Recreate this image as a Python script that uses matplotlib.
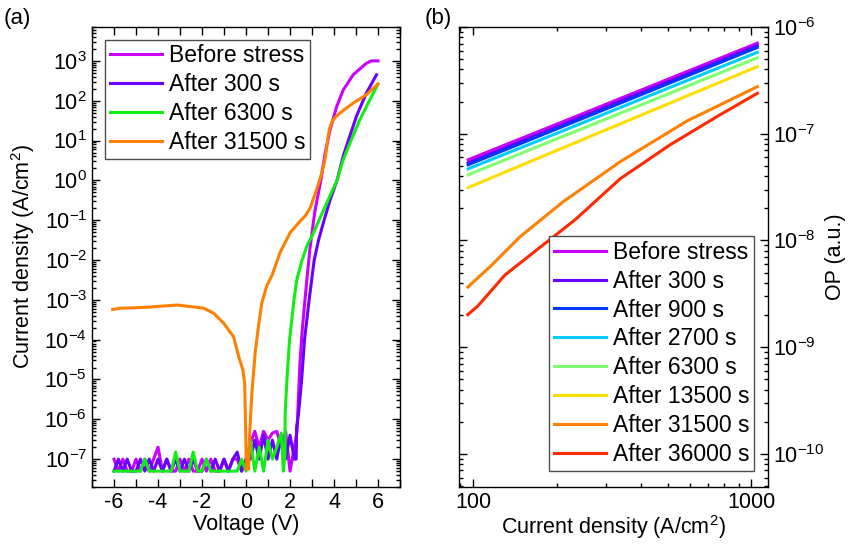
import matplotlib
matplotlib.use("Agg")
import matplotlib.pyplot as plt
from matplotlib.ticker import LogLocator, NullFormatter, MultipleLocator

# ---------- panel (a): J-V curves ----------
# noise floor part of the sweep (values in units of 1e-7 A/cm2)
noise_v_neg = [-6.0, -5.8, -5.6, -5.4, -5.2, -5.0, -4.8, -4.6, -4.4, -4.2, -4.0,
               -3.8, -3.6, -3.4, -3.2, -3.0, -2.8, -2.6, -2.4, -2.2, -2.0,
               -1.8, -1.6, -1.4, -1.2, -1.0, -0.8, -0.6, -0.4, -0.2, 0.0]
noise_v_pos = [0.2, 0.4, 0.6, 0.8, 1.0, 1.2, 1.4, 1.6, 1.8, 2.0, 2.2]

before_noise = [1, 0.5, 1, 0.5, 0.5, 1, 0.5, 1, 0.5, 1, 2, 0.5, 1, 0.5, 0.5, 1,
                0.5, 1, 0.5, 0.5, 1, 0.5, 1, 0.5, 0.5, 1, 0.5, 1, 1, 0.5, 1,
                2.5, 5, 2, 5, 3, 4.5, 5, 2, 5, 0.5, 2]
s300_noise = [0.5, 1, 0.5, 1, 0.5, 0.5, 1, 0.5, 1, 0.5, 1, 0.5, 1, 0.5, 1, 0.5,
              1, 0.5, 1, 0.5, 0.5, 1, 0.5, 1, 0.5, 1, 0.5, 1, 1.5, 0.5, 1,
              1, 3, 1, 4, 1, 3, 1, 4, 1, 4, 1]
s6300_noise = [0.5, 0.5, 0.5, 0.5, 0.5, 0.5, 0.5, 1, 0.5, 0.5, 0.5, 0.5, 0.5, 0.5,
               1.5, 0.5, 0.5, 0.5, 1.5, 0.5, 0.5, 1, 0.5, 0.5, 0.5, 0.5, 0.5, 0.5,
               0.5, 1, 0.5,
               3, 0.5, 2, 0.5, 3, 1, 2, 4.5]

# turn-on part of the sweep
before_v = [2.32, 2.38, 2.45, 2.55, 2.68, 2.80, 2.91, 3.05, 3.14, 3.40, 3.60,
            3.82, 4.12, 4.42, 4.87, 5.47, 5.70, 6.0]
before_j = [5.0e-7, 3.2e-6, 2.5e-5, 1.6e-4, 1e-3, 5e-3, 2e-2, 7.9e-2, 0.178,
            1.0, 4.8, 18.6, 71, 186, 447, 871, 1000, 1000]

s300_v = [2.28, 2.30, 2.38, 2.53, 2.66, 2.87, 3.10, 3.30, 3.55, 3.82, 4.15,
          4.42, 4.72, 5.02, 5.47, 5.93]
s300_j = [1e-7, 6.3e-7, 1.26e-6, 1e-5, 1e-4, 1e-3, 1e-2, 3.2e-2, 0.1, 0.32,
          1.05, 4.1, 12.9, 40.7, 155, 447]

s6300_v = [1.70, 1.77, 1.78, 1.86, 1.98, 2.18, 2.31, 2.55, 2.80, 3.0, 3.32,
           3.74, 4.15, 4.42, 4.72, 5.17, 5.63, 6.0]
s6300_j = [5e-8, 1.26e-7, 1.4e-6, 1e-5, 1e-4, 1e-3, 3.2e-3, 1e-2, 2.5e-2, 4e-2,
           0.1, 0.33, 1.05, 3.3, 8.5, 33, 105, 263]

s31500_v = [-6.06, -5.69, -5.08, -4.33, -3.88, -3.12, -2.67, -1.92, -1.46, -1.01,
            -0.56, -0.33, -0.14, -0.06, 0.02, 0.12, 0.17, 0.27, 0.42, 0.57, 0.72,
            0.95, 1.18, 1.55, 2.01, 2.30, 2.46, 2.70, 2.91, 3.21, 3.44, 3.55,
            3.62, 3.67, 3.72, 3.80, 3.90, 4.05, 4.27, 4.87, 5.47, 6.0]
s31500_j = [5.75e-4, 6.17e-4, 6.31e-4, 6.61e-4, 6.92e-4, 7.41e-4, 6.92e-4, 6.17e-4,
            4.57e-4, 2.57e-4, 1.17e-4, 3.72e-5, 1.74e-5, 7.9e-6, 5.6e-8, 5.6e-8,
            4.8e-7, 4.8e-6, 4.9e-5, 2.24e-4, 8.5e-4, 2.3e-3, 4.1e-3, 1.55e-2,
            4.9e-2, 7.5e-2, 9.5e-2, 0.13, 0.20, 0.59, 1.5, 2.6,
            4.2, 7.0, 11.5, 20, 29, 38, 49, 87, 141, 263]

# ---------- panel (b): OP vs current density ----------
op_j = [96, 200, 450, 1050]
op_before = [5.7e-8, 1.23e-7, 2.89e-7, 7.05e-7]
op_300 = [5.34e-8, 1.16e-7, 2.73e-7, 6.70e-7]
op_900 = [5.12e-8, 1.11e-7, 2.62e-7, 6.43e-7]
op_2700 = [4.69e-8, 1.01e-7, 2.38e-7, 5.79e-7]
op_6300 = [4.12e-8, 8.95e-8, 2.10e-7, 5.14e-7]
op_13500 = [3.13e-8, 6.98e-8, 1.69e-7, 4.25e-7]

op_31500_j = [95.7, 114.8, 147.3, 210.4, 337.6, 588.3, 1051]
op_31500 = [3.66e-9, 5.64e-9, 1.08e-8, 2.30e-8, 5.46e-8, 1.32e-7, 2.76e-7]
op_36000_j = [95.7, 104.0, 130.1, 171.0, 232.4, 337.6, 510.8, 773.3, 1051]
op_36000 = [2.02e-9, 2.43e-9, 4.74e-9, 8.32e-9, 1.56e-8, 3.78e-8, 7.88e-8,
            1.51e-7, 2.39e-7]

plt.rcParams['font.family'] = ['Liberation Sans', 'DejaVu Sans']
plt.rcParams['mathtext.fontset'] = 'custom'
plt.rcParams['mathtext.rm'] = 'Liberation Sans'
plt.rcParams['mathtext.it'] = 'Liberation Sans:italic'
plt.rcParams['mathtext.default'] = 'regular'
plt.rcParams['axes.unicode_minus'] = False
plt.rcParams['font.size'] = 15.5
plt.rcParams['axes.linewidth'] = 1.0

fig = plt.figure(figsize=(8.48, 5.44), dpi=100)
ax1 = fig.add_axes([0.1085, 0.1048, 0.3632, 0.8456])
ax2 = fig.add_axes([0.5413, 0.1048, 0.3644, 0.8456])

lw = 2.2
c_before = "#CC00FF"
c_300 = "#6A00FF"
leg_kw = dict(fancybox=False, edgecolor="0.3", framealpha=1, fontsize=16.5,
              handlelength=2.3, handletextpad=0.3, labelspacing=0.26,
              borderpad=0.2, borderaxespad=0)


def scaled(vals):
    return [v * 1e-7 for v in vals]


noise_v = noise_v_neg + noise_v_pos
ax1.plot(noise_v + before_v, scaled(before_noise) + before_j, color=c_before,
         lw=lw, label="Before stress")
ax1.plot(noise_v + s300_v, scaled(s300_noise) + s300_j, color=c_300,
         lw=lw, label="After 300 s")
ax1.plot(noise_v[:len(s6300_noise)] + s6300_v, scaled(s6300_noise) + s6300_j,
         color="#11EE11", lw=lw, label="After 6300 s")
ax1.plot(s31500_v, s31500_j, color="#FF8000", lw=lw, label="After 31500 s")

ax1.set_yscale("log")
ax1.set_xlim(-7, 7)
ax1.set_ylim(2e-8, 7.1e3)
ax1.xaxis.set_major_locator(MultipleLocator(2))
ax1.xaxis.set_minor_locator(MultipleLocator(1))
ax1.yaxis.set_major_locator(LogLocator(base=10, numticks=30))
ax1.yaxis.set_minor_locator(LogLocator(base=10, subs=range(2, 10), numticks=200))
ax1.yaxis.set_minor_formatter(NullFormatter())
ax1.set_xlabel("Voltage (V)", labelpad=0.5)
ax1.set_ylabel("Current density (A/cm$^2$)", labelpad=5)
ax1.tick_params(which="both", direction="in", top=True, right=True, width=1)
ax1.tick_params(which="major", length=6)
ax1.tick_params(which="minor", length=3)
ax1.tick_params(axis="x", which="minor", length=6)
ax1.legend(loc="upper left", bbox_to_anchor=(0.042, 0.972), **leg_kw)

ax2.plot(op_j, op_before, color=c_before, lw=lw, label="Before stress")
ax2.plot(op_j, op_300, color=c_300, lw=lw, label="After 300 s")
ax2.plot(op_j, op_900, color="#0038FF", lw=lw, label="After 900 s")
ax2.plot(op_j, op_2700, color="#00CCFF", lw=lw, label="After 2700 s")
ax2.plot(op_j, op_6300, color="#80FF70", lw=lw, label="After 6300 s")
ax2.plot(op_j, op_13500, color="#FFDD00", lw=lw, label="After 13500 s")
ax2.plot(op_31500_j, op_31500, color="#FF8000", lw=lw, label="After 31500 s")
ax2.plot(op_36000_j, op_36000, color="#FF2A00", lw=lw, label="After 36000 s")

ax2.set_xscale("log")
ax2.set_yscale("log")
ax2.set_xlim(89, 1148)
ax2.set_ylim(4.9e-11, 1e-6)
ax2.set_xticks([100, 1000])
ax2.set_xticklabels(["100", "1000"])
ax2.xaxis.set_minor_locator(LogLocator(base=10, subs=range(2, 10), numticks=50))
ax2.xaxis.set_minor_formatter(NullFormatter())
ax2.yaxis.set_major_locator(LogLocator(base=10, numticks=30))
ax2.yaxis.set_minor_locator(LogLocator(base=10, subs=range(2, 10), numticks=200))
ax2.yaxis.set_minor_formatter(NullFormatter())
ax2.tick_params(which="both", direction="in", top=True, right=True, left=True,
                labelleft=False, labelright=True, width=1)
ax2.tick_params(which="major", length=6)
ax2.tick_params(which="minor", length=3)
ax2.yaxis.set_label_position("right")
ax2.set_ylabel("OP (a.u.)", labelpad=1)
ax2.set_xlabel("Current density (A/cm$^2$)", labelpad=0.5)
ax2.legend(loc="lower right", bbox_to_anchor=(0.956, 0.035), **leg_kw)

fig.text(0.004, 0.985, "(a)", va="top", ha="left", fontsize=16)
fig.text(0.501, 0.985, "(b)", va="top", ha="left", fontsize=16)

fig.savefig("out.png", dpi=100)
